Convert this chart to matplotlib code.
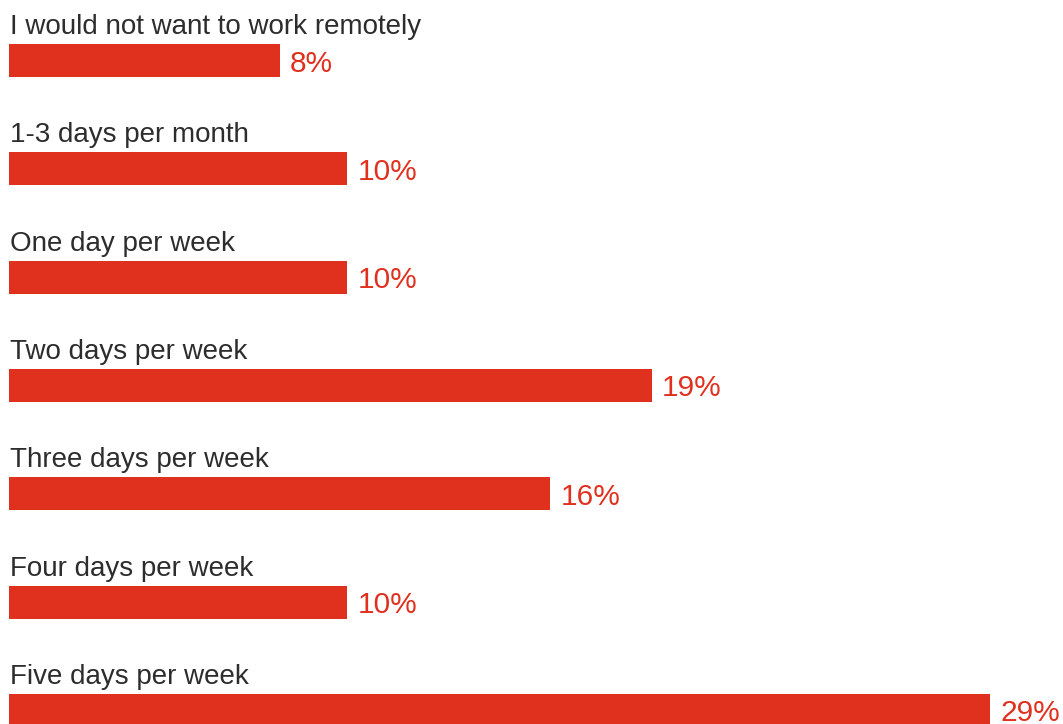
import numpy as np
import matplotlib.pyplot as plt

categories = ["I would not want to work remotely", "1-3 days per month",
              "One day per week", "Two days per week", "Three days per week",
              "Four days per week", "Five days per week"]
values = [8, 10, 10, 19, 16, 10, 29]

red = "#E0301E"
dark = "#2D2D2D"
plt.rcParams['font.family'] = ['Liberation Sans', 'DejaVu Sans']

fig = plt.figure(figsize=(10.63, 7.24), dpi=100)
ax = fig.add_axes([0, 0, 1, 1])

# pixel scale: 33.83 px per percent, 108.3 px per row
px_x = 33.83
px_y = 108.3
bar_h = 33 / px_y
y = np.arange(len(values))

ax.barh(y, values, height=bar_h, color=red, left=0)

for i, (cat, v) in enumerate(zip(categories, values)):
    ax.text(1 / px_x, i - bar_h / 2 - 10 / px_y, cat, color=dark,
            fontsize=20, va='baseline', ha='left')
    ax.text(v + 10 / px_x, i, f"{v}%", color=red, fontsize=21.5,
            va='center_baseline', ha='left')

ax.set_xlim(-9 / px_x, (1063 - 9) / px_x)
ax.set_ylim((724 - 60.5) / px_y, -60.5 / px_y)
ax.axis('off')

fig.savefig('out.png', dpi=100, facecolor='white')
